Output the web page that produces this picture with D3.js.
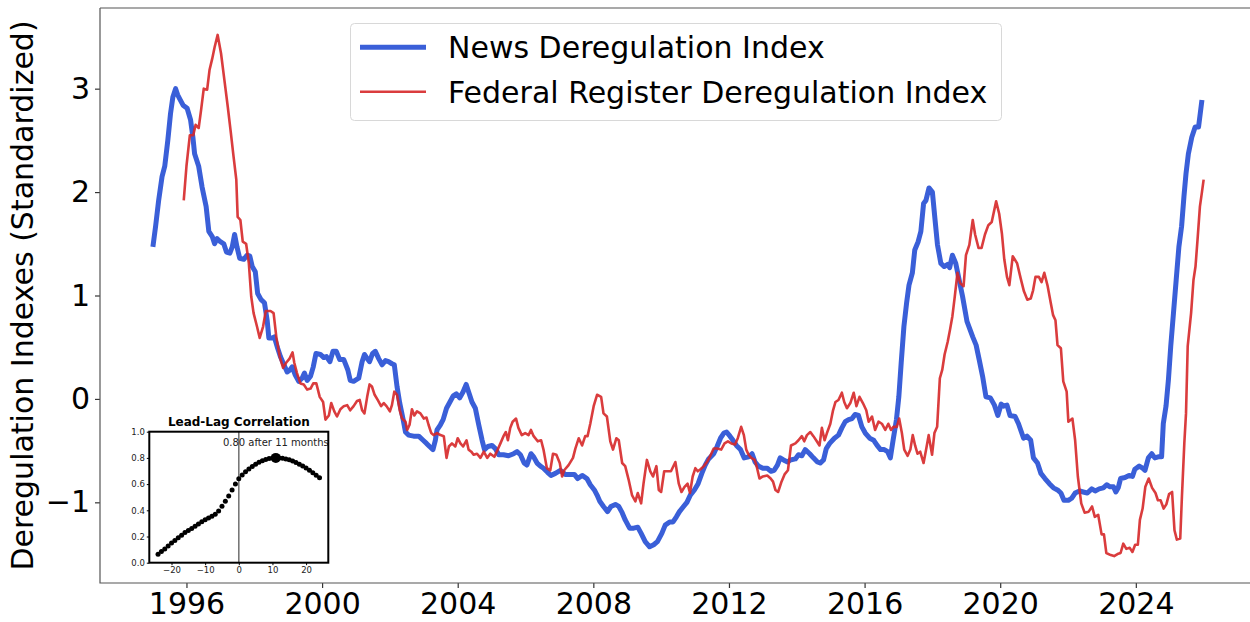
<!DOCTYPE html>
<html>
<head>
<meta charset="utf-8">
<script src="https://cdn.jsdelivr.net/npm/d3@7/dist/d3.min.js"></script>
<style>
  html, body { margin: 0; padding: 0; background: #fff; }
  svg { display: block; font-family: "DejaVu Sans", sans-serif; }
</style>
</head>
<body>
<svg id="chart" width="1250" height="622"></svg>
<script>
// ── Data ──────────────────────────────────────────────────────────────────────
// [decimal year, standardized value]
const newsIndex = [
  [1995.01,1.47],[1995.09,1.67],[1995.18,1.92],[1995.28,2.15],[1995.36,2.25],[1995.45,2.50],
  [1995.53,2.76],[1995.60,2.92],[1995.68,3.00],[1995.74,2.94],[1995.82,2.89],[1995.90,2.84],
  [1996.02,2.81],[1996.12,2.70],[1996.19,2.53],[1996.24,2.37],[1996.36,2.25],[1996.46,2.05],
  [1996.58,1.86],[1996.66,1.62],[1996.76,1.57],[1996.83,1.50],[1996.90,1.55],[1997.00,1.52],
  [1997.10,1.50],[1997.18,1.42],[1997.28,1.41],[1997.35,1.47],[1997.42,1.59],[1997.49,1.47],
  [1997.57,1.36],[1997.69,1.35],[1997.79,1.39],[1997.87,1.38],[1997.94,1.28],[1998.03,1.23],
  [1998.10,1.02],[1998.20,0.96],[1998.30,0.93],[1998.38,0.76],[1998.43,0.59],[1998.53,0.59],
  [1998.59,0.60],[1998.69,0.49],[1998.77,0.41],[1998.85,0.35],[1998.97,0.26],[1999.05,0.28],
  [1999.12,0.31],[1999.21,0.23],[1999.31,0.17],[1999.41,0.20],[1999.48,0.25],[1999.56,0.18],
  [1999.66,0.22],[1999.74,0.31],[1999.82,0.44],[1999.95,0.43],[2000.05,0.40],[2000.13,0.41],
  [2000.23,0.36],[2000.32,0.46],[2000.42,0.46],[2000.52,0.38],[2000.64,0.38],[2000.76,0.28],
  [2000.83,0.18],[2000.93,0.17],[2001.08,0.20],[2001.18,0.36],[2001.25,0.43],[2001.33,0.39],
  [2001.40,0.36],[2001.49,0.44],[2001.57,0.46],[2001.67,0.39],[2001.77,0.33],[2001.87,0.37],
  [2001.96,0.36],[2002.06,0.34],[2002.13,0.33],[2002.21,0.12],[2002.29,-0.04],[2002.39,-0.20],
  [2002.46,-0.32],[2002.55,-0.35],[2002.70,-0.36],[2002.85,-0.36],[2002.98,-0.40],[2003.08,-0.43],
  [2003.17,-0.46],[2003.27,-0.49],[2003.34,-0.40],[2003.39,-0.30],[2003.49,-0.25],[2003.57,-0.20],
  [2003.67,-0.09],[2003.77,-0.03],[2003.87,0.03],[2003.96,0.05],[2004.06,0.01],[2004.16,0.07],
  [2004.25,0.14],[2004.32,0.07],[2004.42,-0.03],[2004.52,-0.09],[2004.62,-0.25],[2004.72,-0.40],
  [2004.79,-0.49],[2004.89,-0.46],[2005.01,-0.45],[2005.11,-0.48],[2005.21,-0.54],[2005.35,-0.54],
  [2005.50,-0.55],[2005.65,-0.53],[2005.75,-0.51],[2005.85,-0.54],[2005.96,-0.62],[2006.04,-0.64],
  [2006.16,-0.53],[2006.24,-0.56],[2006.34,-0.62],[2006.44,-0.65],[2006.53,-0.67],[2006.65,-0.71],
  [2006.75,-0.74],[2006.88,-0.72],[2007.03,-0.69],[2007.17,-0.73],[2007.32,-0.73],[2007.44,-0.73],
  [2007.54,-0.77],[2007.67,-0.74],[2007.81,-0.77],[2007.91,-0.83],[2008.03,-0.88],[2008.11,-0.93],
  [2008.19,-0.99],[2008.30,-1.04],[2008.42,-1.09],[2008.52,-1.04],[2008.65,-1.02],[2008.75,-1.04],
  [2008.85,-1.10],[2008.94,-1.17],[2009.07,-1.25],[2009.19,-1.25],[2009.31,-1.24],[2009.41,-1.30],
  [2009.53,-1.38],[2009.66,-1.43],[2009.78,-1.41],[2009.89,-1.38],[2010.02,-1.30],[2010.12,-1.22],
  [2010.25,-1.19],[2010.35,-1.19],[2010.45,-1.14],[2010.54,-1.09],[2010.66,-1.04],[2010.76,-1.00],
  [2010.86,-0.93],[2010.98,-0.88],[2011.09,-0.82],[2011.20,-0.72],[2011.30,-0.64],[2011.40,-0.58],
  [2011.55,-0.53],[2011.65,-0.46],[2011.75,-0.38],[2011.85,-0.33],[2011.93,-0.32],[2012.03,-0.36],
  [2012.12,-0.40],[2012.22,-0.45],[2012.34,-0.49],[2012.45,-0.57],[2012.58,-0.56],[2012.68,-0.53],
  [2012.77,-0.61],[2012.87,-0.65],[2013.00,-0.67],[2013.13,-0.67],[2013.24,-0.70],[2013.33,-0.69],
  [2013.43,-0.64],[2013.51,-0.57],[2013.61,-0.59],[2013.73,-0.61],[2013.81,-0.59],[2013.96,-0.58],
  [2014.05,-0.54],[2014.15,-0.55],[2014.25,-0.49],[2014.38,-0.53],[2014.49,-0.57],[2014.61,-0.61],
  [2014.69,-0.62],[2014.79,-0.59],[2014.87,-0.48],[2014.97,-0.43],[2015.11,-0.38],[2015.23,-0.35],
  [2015.33,-0.28],[2015.43,-0.22],[2015.53,-0.20],[2015.63,-0.19],[2015.72,-0.15],[2015.82,-0.16],
  [2015.92,-0.27],[2016.02,-0.33],[2016.15,-0.38],[2016.27,-0.40],[2016.37,-0.45],[2016.47,-0.49],
  [2016.58,-0.49],[2016.68,-0.51],[2016.76,-0.57],[2016.84,-0.40],[2016.94,-0.20],[2017.01,0.02],
  [2017.08,0.35],[2017.16,0.70],[2017.24,0.93],[2017.31,1.10],[2017.41,1.22],[2017.48,1.44],
  [2017.58,1.52],[2017.66,1.62],[2017.74,1.89],[2017.81,1.92],[2017.90,2.04],[2018.00,2.00],
  [2018.07,1.76],[2018.15,1.49],[2018.25,1.31],[2018.35,1.28],[2018.45,1.30],[2018.51,1.27],
  [2018.59,1.39],[2018.69,1.31],[2018.79,1.15],[2018.89,0.99],[2019.02,0.75],[2019.19,0.60],
  [2019.29,0.52],[2019.38,0.38],[2019.48,0.22],[2019.58,0.02],[2019.71,0.01],[2019.83,-0.06],
  [2019.93,-0.16],[2020.03,-0.05],[2020.10,-0.07],[2020.20,-0.06],[2020.29,-0.16],[2020.44,-0.17],
  [2020.54,-0.24],[2020.69,-0.38],[2020.79,-0.36],[2020.90,-0.40],[2020.98,-0.57],[2021.10,-0.62],
  [2021.20,-0.72],[2021.32,-0.77],[2021.45,-0.82],[2021.57,-0.86],[2021.69,-0.88],[2021.79,-0.91],
  [2021.88,-0.98],[2022.01,-0.98],[2022.11,-0.96],[2022.21,-0.91],[2022.34,-0.89],[2022.45,-0.90],
  [2022.57,-0.91],[2022.70,-0.87],[2022.80,-0.89],[2022.92,-0.87],[2023.04,-0.86],[2023.14,-0.83],
  [2023.24,-0.85],[2023.34,-0.85],[2023.41,-0.90],[2023.48,-0.86],[2023.55,-0.77],[2023.68,-0.76],
  [2023.80,-0.74],[2023.90,-0.75],[2023.97,-0.68],[2024.10,-0.65],[2024.20,-0.67],[2024.27,-0.69],
  [2024.37,-0.57],[2024.47,-0.53],[2024.56,-0.57],[2024.66,-0.56],[2024.76,-0.56],[2024.81,-0.24],
  [2024.89,-0.07],[2024.96,0.18],[2025.03,0.51],[2025.11,0.83],[2025.19,1.15],[2025.27,1.47],
  [2025.35,1.67],[2025.42,1.96],[2025.48,2.18],[2025.55,2.37],[2025.65,2.53],[2025.75,2.63],
  [2025.85,2.63],[2025.90,2.76],[2025.95,2.89]
];

const fedRegIndex = [
  [1995.92,1.92],[1996.00,2.25],[1996.10,2.55],[1996.20,2.55],[1996.27,2.65],[1996.36,2.62],
  [1996.43,2.79],[1996.51,3.00],[1996.61,2.99],[1996.68,3.18],[1996.76,3.29],[1996.83,3.40],
  [1996.92,3.52],[1997.02,3.34],[1997.12,3.08],[1997.22,2.82],[1997.30,2.60],[1997.39,2.34],
  [1997.47,2.12],[1997.51,1.76],[1997.59,1.73],[1997.66,1.52],[1997.76,1.50],[1997.84,1.31],
  [1997.91,0.99],[1997.98,0.83],[1998.08,0.70],[1998.16,0.59],[1998.26,0.70],[1998.34,0.85],
  [1998.48,0.85],[1998.57,0.83],[1998.65,0.60],[1998.75,0.41],[1998.85,0.30],[1998.94,0.35],
  [1999.04,0.39],[1999.13,0.45],[1999.18,0.35],[1999.26,0.25],[1999.36,0.15],[1999.46,0.14],
  [1999.56,0.09],[1999.66,0.10],[1999.74,0.15],[1999.83,0.15],[1999.93,0.02],[2000.03,-0.03],
  [2000.10,-0.20],[2000.20,-0.16],[2000.27,-0.04],[2000.36,-0.12],[2000.44,-0.17],[2000.54,-0.10],
  [2000.64,-0.07],[2000.74,-0.06],[2000.83,-0.11],[2000.93,-0.07],[2001.03,-0.02],[2001.11,-0.01],
  [2001.18,-0.11],[2001.25,-0.14],[2001.33,0.02],[2001.40,0.14],[2001.47,0.12],[2001.55,0.04],
  [2001.64,-0.01],[2001.74,-0.07],[2001.82,-0.04],[2001.90,-0.07],[2002.00,-0.12],[2002.06,-0.06],
  [2002.13,0.07],[2002.21,0.04],[2002.29,-0.11],[2002.36,-0.19],[2002.46,-0.22],[2002.51,-0.30],
  [2002.58,-0.25],[2002.65,-0.10],[2002.72,-0.16],[2002.80,-0.12],[2002.90,-0.14],[2003.00,-0.19],
  [2003.08,-0.18],[2003.14,-0.25],[2003.22,-0.33],[2003.29,-0.35],[2003.39,-0.33],[2003.49,-0.35],
  [2003.59,-0.36],[2003.67,-0.57],[2003.74,-0.46],[2003.83,-0.43],[2003.93,-0.46],[2004.00,-0.38],
  [2004.08,-0.43],[2004.16,-0.46],[2004.26,-0.40],[2004.32,-0.49],[2004.40,-0.51],[2004.47,-0.54],
  [2004.57,-0.53],[2004.67,-0.57],[2004.77,-0.51],[2004.87,-0.57],[2004.96,-0.53],[2005.08,-0.56],
  [2005.18,-0.49],[2005.26,-0.43],[2005.35,-0.36],[2005.42,-0.32],[2005.48,-0.40],[2005.55,-0.28],
  [2005.62,-0.22],[2005.72,-0.19],[2005.79,-0.28],[2005.89,-0.35],[2005.99,-0.33],[2006.09,-0.35],
  [2006.16,-0.30],[2006.24,-0.36],[2006.36,-0.41],[2006.46,-0.40],[2006.53,-0.49],[2006.63,-0.67],
  [2006.73,-0.69],[2006.81,-0.53],[2006.91,-0.54],[2007.01,-0.62],[2007.08,-0.75],[2007.14,-0.69],
  [2007.27,-0.64],[2007.40,-0.57],[2007.47,-0.48],[2007.57,-0.38],[2007.67,-0.45],[2007.76,-0.36],
  [2007.83,-0.36],[2007.91,-0.24],[2008.01,-0.07],[2008.11,0.04],[2008.23,0.02],[2008.30,-0.14],
  [2008.40,-0.17],[2008.50,-0.41],[2008.58,-0.49],[2008.68,-0.38],[2008.75,-0.40],[2008.85,-0.62],
  [2008.94,-0.65],[2009.04,-0.78],[2009.14,-0.93],[2009.24,-0.99],[2009.31,-0.91],[2009.41,-1.01],
  [2009.48,-0.82],[2009.58,-0.59],[2009.68,-0.70],[2009.76,-0.75],[2009.86,-0.65],[2009.93,-0.88],
  [2010.00,-0.90],[2010.09,-0.70],[2010.19,-0.70],[2010.29,-0.70],[2010.42,-0.61],[2010.52,-0.82],
  [2010.60,-0.90],[2010.69,-0.85],[2010.78,-0.82],[2010.85,-0.91],[2010.93,-0.75],[2011.01,-0.67],
  [2011.08,-0.70],[2011.16,-0.68],[2011.26,-0.65],[2011.35,-0.61],[2011.45,-0.55],[2011.55,-0.48],
  [2011.65,-0.48],[2011.77,-0.49],[2011.87,-0.43],[2011.97,-0.41],[2012.07,-0.43],[2012.18,-0.44],
  [2012.26,-0.38],[2012.36,-0.27],[2012.44,-0.35],[2012.51,-0.49],[2012.58,-0.54],[2012.66,-0.57],
  [2012.76,-0.59],[2012.83,-0.67],[2012.90,-0.77],[2013.00,-0.75],[2013.13,-0.74],[2013.23,-0.77],
  [2013.30,-0.80],[2013.37,-0.88],[2013.45,-0.90],[2013.55,-0.80],[2013.64,-0.73],[2013.74,-0.69],
  [2013.83,-0.45],[2013.96,-0.43],[2014.05,-0.40],[2014.15,-0.36],[2014.22,-0.41],[2014.30,-0.35],
  [2014.40,-0.32],[2014.49,-0.36],[2014.59,-0.41],[2014.67,-0.45],[2014.74,-0.28],[2014.82,-0.40],
  [2014.89,-0.33],[2014.99,-0.24],[2015.07,-0.11],[2015.14,-0.03],[2015.23,-0.01],[2015.33,0.06],
  [2015.40,-0.03],[2015.48,-0.09],[2015.58,-0.04],[2015.68,0.06],[2015.76,-0.07],[2015.85,0.02],
  [2015.95,-0.04],[2016.05,-0.11],[2016.12,-0.22],[2016.22,-0.17],[2016.31,-0.30],[2016.41,-0.22],
  [2016.51,-0.24],[2016.61,-0.30],[2016.70,-0.24],[2016.78,-0.30],[2016.85,-0.27],[2016.95,-0.27],
  [2017.02,-0.19],[2017.10,-0.33],[2017.17,-0.49],[2017.27,-0.55],[2017.35,-0.49],[2017.42,-0.35],
  [2017.49,-0.45],[2017.56,-0.53],[2017.64,-0.51],[2017.74,-0.62],[2017.82,-0.48],[2017.89,-0.35],
  [2017.99,-0.54],[2018.06,-0.33],[2018.14,-0.27],[2018.22,0.20],[2018.29,0.28],[2018.36,0.43],
  [2018.45,0.55],[2018.52,0.67],[2018.59,0.80],[2018.66,0.99],[2018.74,1.22],[2018.82,1.12],
  [2018.92,1.09],[2018.99,1.39],[2019.09,1.49],[2019.19,1.73],[2019.26,1.59],[2019.36,1.46],
  [2019.45,1.46],[2019.55,1.59],[2019.65,1.68],[2019.75,1.71],[2019.88,1.91],[2019.97,1.79],
  [2020.05,1.60],[2020.12,1.35],[2020.20,1.18],[2020.27,1.10],[2020.37,1.38],[2020.50,1.31],
  [2020.60,1.17],[2020.70,1.04],[2020.80,0.96],[2020.90,0.97],[2020.97,1.05],[2021.04,1.18],
  [2021.14,1.18],[2021.22,1.13],[2021.30,1.22],[2021.40,1.09],[2021.49,0.93],[2021.56,0.81],
  [2021.63,0.76],[2021.69,0.52],[2021.79,0.49],[2021.86,0.17],[2021.96,0.07],[2022.01,-0.22],
  [2022.13,-0.19],[2022.21,-0.40],[2022.29,-0.75],[2022.39,-1.01],[2022.49,-1.10],[2022.61,-1.09],
  [2022.71,-1.04],[2022.79,-1.14],[2022.89,-1.12],[2022.99,-1.31],[2023.06,-1.31],[2023.13,-1.49],
  [2023.26,-1.51],[2023.36,-1.52],[2023.46,-1.50],[2023.55,-1.49],[2023.63,-1.40],[2023.72,-1.45],
  [2023.82,-1.44],[2023.90,-1.48],[2023.98,-1.41],[2024.06,-1.41],[2024.12,-1.17],[2024.20,-1.06],
  [2024.28,-0.85],[2024.38,-0.77],[2024.48,-0.86],[2024.58,-0.91],[2024.65,-0.98],[2024.73,-0.98],
  [2024.82,-1.06],[2024.90,-1.02],[2024.98,-0.92],[2025.07,-0.90],[2025.14,-1.27],[2025.21,-1.36],
  [2025.31,-1.35],[2025.36,-0.94],[2025.43,-0.43],[2025.48,-0.14],[2025.53,0.51],[2025.63,0.83],
  [2025.70,1.15],[2025.76,1.28],[2025.82,1.54],[2025.89,1.86],[2025.95,2.00],[2026.00,2.12]
];

const xTickYears = [1996, 2000, 2004, 2008, 2012, 2016, 2020, 2024];
const yTickValues = [-1, 0, 1, 2, 3];
const seriesLabels = ['News Deregulation Index', 'Federal Register Deregulation Index'];

// inset: lead-lag correlation (lag in months)
const lagMonths = [-24,-23,-22,-21,-20,-19,-18,-17,-16,-15,-14,-13,-12,-11,-10,-9,-8,-7,-6,-5,-4,-3,-2,-1,
                   0,1,2,3,4,5,6,7,8,9,10,11,12,13,14,15,16,17,18,19,20,21,22,23,24];
const lagCorr = [0.065,0.085,0.105,0.128,0.150,0.170,0.190,0.210,0.230,0.245,0.262,0.278,0.295,0.312,
                 0.328,0.342,0.355,0.370,0.395,0.430,0.470,0.510,0.555,0.600,0.640,0.670,0.695,0.715,
                 0.735,0.752,0.767,0.779,0.788,0.795,0.799,0.801,0.800,0.797,0.792,0.785,0.776,0.765,
                 0.752,0.738,0.722,0.705,0.687,0.668,0.648];
const peakLag = 11;
const peakCorr = 0.80;
const insetXTicks = [-20, -10, 0, 10, 20];
const insetYTicks = [0.0, 0.2, 0.4, 0.6, 0.8, 1.0];

// ── Layout ────────────────────────────────────────────────────────────────────
const svg = d3.select('#chart');
const plot = { left: 100, right: 1254.5, top: 8, bottom: 583 };

const BLUE = '#3a5fd8';
const RED  = '#d62728';
const FONT = 30;

const x = d3.scaleLinear().domain([1993.45, 2027.5]).range([plot.left, plot.right]);
const y = d3.scaleLinear().domain([-1.78, 3.78]).range([plot.bottom, plot.top]);

// ── Axes ──────────────────────────────────────────────────────────────────────
const xAxis = svg.append('g')
  .attr('transform', `translate(0,${plot.bottom})`)
  .call(d3.axisBottom(x).tickValues(xTickYears).tickFormat(d3.format('d')).tickSize(5).tickPadding(5));

const yAxis = svg.append('g')
  .attr('transform', `translate(${plot.left},0)`)
  .call(d3.axisLeft(y).tickValues(yTickValues).tickFormat(d => d < 0 ? '\u2212' + Math.abs(d) : d).tickSize(5).tickPadding(5));

[xAxis, yAxis].forEach(a => {
  a.select('.domain').remove();
  a.selectAll('.tick line').attr('stroke', '#333').attr('stroke-width', 1.2);
  a.selectAll('.tick text').attr('fill', '#000').attr('font-size', FONT).attr('font-family', '"DejaVu Sans", sans-serif');
});

// spines (left, bottom, top — right lies off-canvas)
svg.append('path')
  .attr('d', `M${plot.left},${plot.top}H${plot.right}M${plot.left},${plot.top}V${plot.bottom}H${plot.right}`)
  .attr('fill', 'none')
  .attr('stroke', '#555')
  .attr('stroke-width', 1.2);

svg.append('text')
  .attr('transform', `translate(33,${(plot.top + plot.bottom) / 2}) rotate(-90)`)
  .attr('text-anchor', 'middle')
  .attr('font-size', FONT)
  .text('Deregulation Indexes (Standardized)');

// ── Lines ─────────────────────────────────────────────────────────────────────
const line = d3.line().x(d => x(d[0])).y(d => y(d[1]));

svg.append('path')
  .datum(newsIndex)
  .attr('d', line)
  .attr('fill', 'none')
  .attr('stroke', BLUE)
  .attr('stroke-width', 5)
  .attr('stroke-linejoin', 'round')
  .attr('stroke-linecap', 'butt');

svg.append('path')
  .datum(fedRegIndex)
  .attr('d', line)
  .attr('fill', 'none')
  .attr('stroke', RED)
  .attr('stroke-opacity', 0.9)
  .attr('stroke-width', 2.6)
  .attr('stroke-linejoin', 'round');

// ── Legend ────────────────────────────────────────────────────────────────────
const legend = svg.append('g');
legend.append('rect')
  .attr('x', 350.5).attr('y', 23.5)
  .attr('width', 651).attr('height', 97)
  .attr('rx', 4)
  .attr('fill', '#fff').attr('fill-opacity', 0.8)
  .attr('stroke', '#d8d8d8').attr('stroke-width', 1);

[[BLUE, 5, 1], [RED, 2.6, 0.9]].forEach(([c, w, o], i) => {
  const ly = 47.3 + i * 44.4;
  legend.append('line')
    .attr('x1', 360).attr('x2', 426).attr('y1', ly).attr('y2', ly)
    .attr('stroke', c).attr('stroke-width', w).attr('stroke-opacity', o);
  legend.append('text')
    .attr('x', 448).attr('y', ly + 11)
    .attr('font-size', FONT)
    .text(seriesLabels[i]);
});

// ── Inset: lead-lag correlation ───────────────────────────────────────────────
const ins = { left: 149.3, right: 328.3, top: 431.7, bottom: 562.7 };
const ix = d3.scaleLinear().domain([-26.6, 26.6]).range([ins.left, ins.right]);
const iy = d3.scaleLinear().domain([0, 1]).range([ins.bottom, ins.top]);

const inset = svg.append('g');
inset.append('rect')
  .attr('x', ins.left).attr('y', ins.top)
  .attr('width', ins.right - ins.left).attr('height', ins.bottom - ins.top)
  .attr('fill', '#fff');

const ixAxis = inset.append('g')
  .attr('transform', `translate(0,${ins.bottom})`)
  .call(d3.axisBottom(ix).tickValues(insetXTicks).tickFormat(d => d < 0 ? '\u2212' + Math.abs(d) : d).tickSize(2.5).tickPadding(2));
const iyAxis = inset.append('g')
  .attr('transform', `translate(${ins.left},0)`)
  .call(d3.axisLeft(iy).tickValues(insetYTicks).tickFormat(d3.format('.1f')).tickSize(2.5).tickPadding(2));
[ixAxis, iyAxis].forEach(a => {
  a.select('.domain').remove();
  a.selectAll('.tick line').attr('stroke', '#000');
  a.selectAll('.tick text').attr('fill', '#222').attr('font-size', 8.5).attr('font-family', '"DejaVu Sans", sans-serif');
});

// zero-lag reference line
inset.append('line')
  .attr('x1', ix(0)).attr('x2', ix(0))
  .attr('y1', ins.top).attr('y2', ins.bottom)
  .attr('stroke', '#777').attr('stroke-width', 1.6);

inset.selectAll('circle.dot')
  .data(lagMonths.map((l, i) => [l, lagCorr[i]]))
  .join('circle')
  .attr('class', 'dot')
  .attr('cx', d => ix(d[0]))
  .attr('cy', d => iy(d[1]))
  .attr('r', 2.5)
  .attr('fill', '#000');

inset.append('circle')
  .attr('cx', ix(peakLag)).attr('cy', iy(peakCorr))
  .attr('r', 5)
  .attr('fill', '#000');

inset.append('text')
  .attr('x', ix(peakLag)).attr('y', 446)
  .attr('text-anchor', 'middle')
  .attr('font-size', 10)
  .attr('fill', '#222')
  .text(`${peakCorr.toFixed(2)} after ${peakLag} months`);

inset.append('rect')
  .attr('x', ins.left).attr('y', ins.top)
  .attr('width', ins.right - ins.left).attr('height', ins.bottom - ins.top)
  .attr('fill', 'none')
  .attr('stroke', '#000').attr('stroke-width', 2);

inset.append('text')
  .attr('x', (ins.left + ins.right) / 2).attr('y', 425.7)
  .attr('text-anchor', 'middle')
  .attr('font-size', 12)
  .attr('font-weight', 'bold')
  .text('Lead-Lag Correlation');
</script>
</body>
</html>
